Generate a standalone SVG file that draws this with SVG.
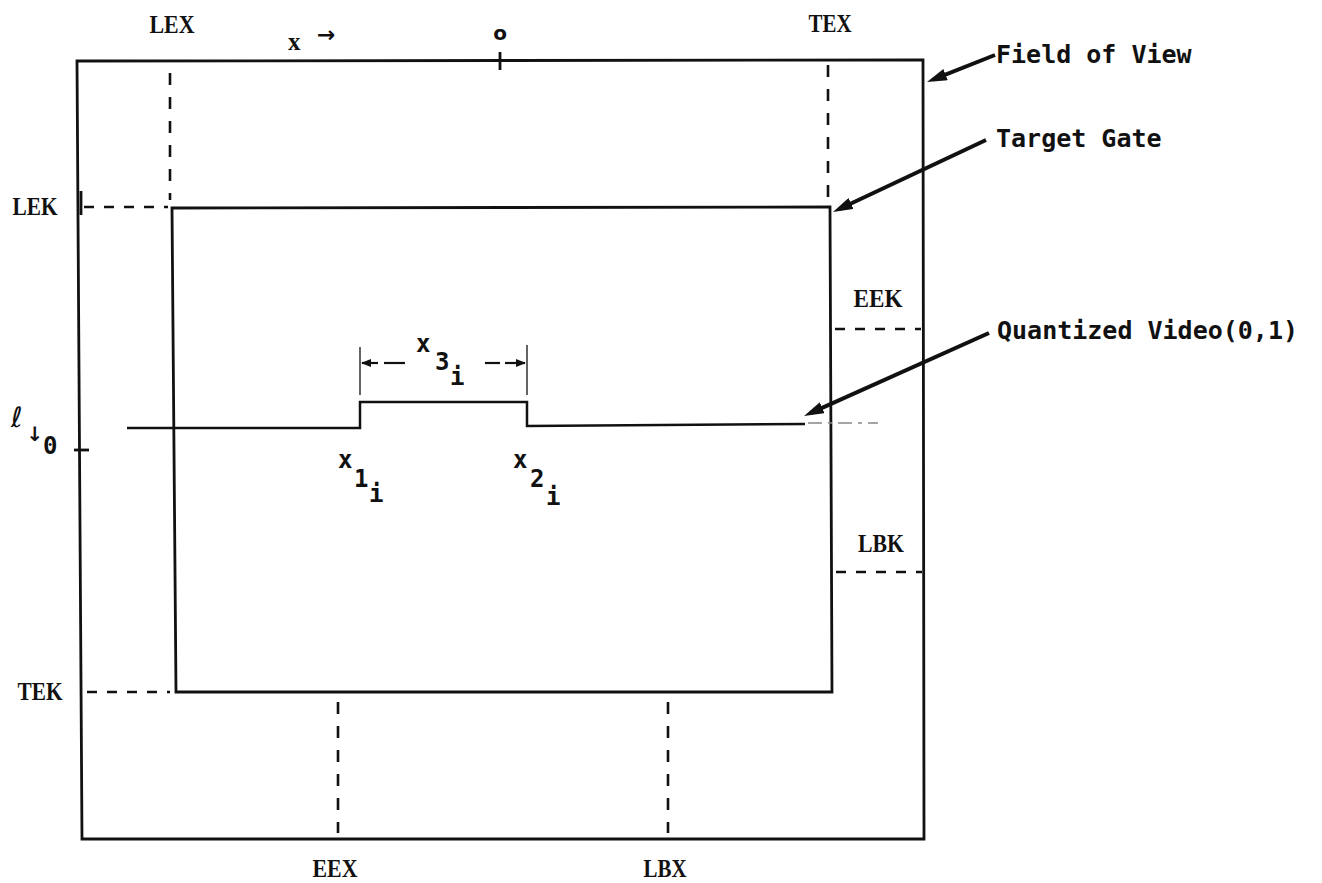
<svg xmlns="http://www.w3.org/2000/svg" width="1322" height="883" viewBox="0 0 1322 883">
<style>
.ln{fill:none;stroke:#111;stroke-width:2.8;stroke-linejoin:miter}
.dv{fill:none;stroke:#111;stroke-width:2.6;stroke-dasharray:12 12}
.dh{fill:none;stroke:#111;stroke-width:2.6;stroke-dasharray:10 10}
.thin{fill:none;stroke:#222;stroke-width:1.4}
.faint{fill:none;stroke:#888;stroke-width:1.6;stroke-dasharray:14 6 4 6}
.call{fill:none;stroke:#111;stroke-width:4;marker-end:url(#ah)}
.dim{fill:none;stroke:#111;stroke-width:2.2}
.dima{fill:none;stroke:#111;stroke-width:2.2;marker-end:url(#sa)}
.lbl{font-family:"Liberation Serif",serif;font-weight:bold;font-size:25px;fill:#111}
.mono{font-family:"DejaVu Sans Mono",monospace;font-weight:bold;font-size:25px;fill:#111}
.sub{font-family:"DejaVu Sans Mono",monospace;font-weight:bold;font-size:24px;fill:#111}
.sym{font-family:"DejaVu Sans",sans-serif;fill:#111}
</style>
<defs>
<marker id="ah" viewBox="0 0 20 12" refX="13" refY="6" markerWidth="20" markerHeight="12" markerUnits="userSpaceOnUse" orient="auto"><path d="M0,0 L20,6 L0,12 Z" fill="#111"/></marker>
<marker id="sa" viewBox="0 0 10 8" refX="9" refY="4" markerWidth="10" markerHeight="8" markerUnits="userSpaceOnUse" orient="auto"><path d="M0,0 L10,4 L0,8 Z" fill="#111"/></marker>
</defs>
<rect x="0" y="0" width="1322" height="883" fill="#fff"/>

<g id="field-of-view">
<path class="ln" d="M77,61 L923,60 L924,839 L82,839 Z"/>
<path class="ln" d="M500,52 L500,70"/>
<path class="ln" d="M74,450 L89,450"/>
<path class="ln" d="M81,191 L81,215"/>
<text class="sym" x="500" y="40" font-size="20" font-weight="bold" text-anchor="middle">o</text>
<text class="lbl" x="288" y="50" font-size="27">x</text>
<text class="sym" x="317" y="42" font-size="22" font-weight="bold">→</text>
<text class="sym" x="11" y="427" font-size="28">ℓ</text>
<text class="sym" x="35" y="441" font-size="20" font-weight="bold" text-anchor="middle">↓</text>
<text class="sub" x="43" y="454" font-size="23">0</text>
<text class="mono" x="996" y="63">Field of View</text>
</g>

<g id="target-gate">
<path class="ln" d="M172,208 L830,207 L832,692 L176,692 Z"/>
<text class="mono" x="996" y="147">Target Gate</text>
</g>

<g id="quantized-video">
<path class="ln" style="stroke-width:2.5" d="M127,428 L360,428 L360,402 L527,402 L527,426 L805,424"/>
<path class="faint" d="M808,423 L878,423"/>
<text class="mono" x="997" y="339">Quantized Video(0,1)</text>
<text class="sub"><tspan x="338" y="468">x</tspan><tspan x="354" y="487">1</tspan><tspan x="369" y="502">i</tspan></text>
<text class="sub"><tspan x="513" y="468">x</tspan><tspan x="530" y="487">2</tspan><tspan x="546" y="505">i</tspan></text>
<text class="sub"><tspan x="416" y="352">x</tspan><tspan x="435" y="370">3</tspan><tspan x="450" y="385">i</tspan></text>
</g>

<g id="gate-limits">
<text class="lbl" x="172" y="33" text-anchor="middle" textLength="45" lengthAdjust="spacingAndGlyphs">LEX</text>
<text class="lbl" x="830" y="32" text-anchor="middle" textLength="43" lengthAdjust="spacingAndGlyphs">TEX</text>
<text class="lbl" x="35" y="215" text-anchor="middle" textLength="45" lengthAdjust="spacingAndGlyphs">LEK</text>
<text class="lbl" x="40" y="700" text-anchor="middle" textLength="45" lengthAdjust="spacingAndGlyphs">TEK</text>
<text class="lbl" x="878" y="307" text-anchor="middle" textLength="49" lengthAdjust="spacingAndGlyphs">EEK</text>
<text class="lbl" x="881" y="552" text-anchor="middle" textLength="46" lengthAdjust="spacingAndGlyphs">LBK</text>
<text class="lbl" x="335" y="877" text-anchor="middle" textLength="45" lengthAdjust="spacingAndGlyphs">EEX</text>
<text class="lbl" x="665" y="877" text-anchor="middle" textLength="43" lengthAdjust="spacingAndGlyphs">LBX</text>
</g>

<g id="connectors">
<path class="dv" d="M170,73 L170,200"/>
<path class="dv" d="M828,65 L828,200"/>
<path class="dh" d="M84,207 L168,207"/>
<path class="dh" d="M87,692 L170,692"/>
<path class="dh" d="M835,329 L921,329"/>
<path class="dh" d="M836,572 L922,572"/>
<path class="dv" d="M338,702 L338,833"/>
<path class="dv" d="M668,702 L668,833"/>
<path class="thin" d="M360,347 L360,395"/>
<path class="thin" d="M527,345 L527,395"/>
<path class="dima" d="M378,363 L362,363"/>
<path class="dim" d="M384,363 L405,363"/>
<path class="dim" d="M485,363 L500,363"/>
<path class="dima" d="M505,363 L525,363"/>
<path class="call" d="M995,55 L933.5,79.4"/>
<path class="call" d="M986,140 L839.3,209"/>
<path class="call" d="M989,333 L810.4,413.1"/>
</g>
</svg>
